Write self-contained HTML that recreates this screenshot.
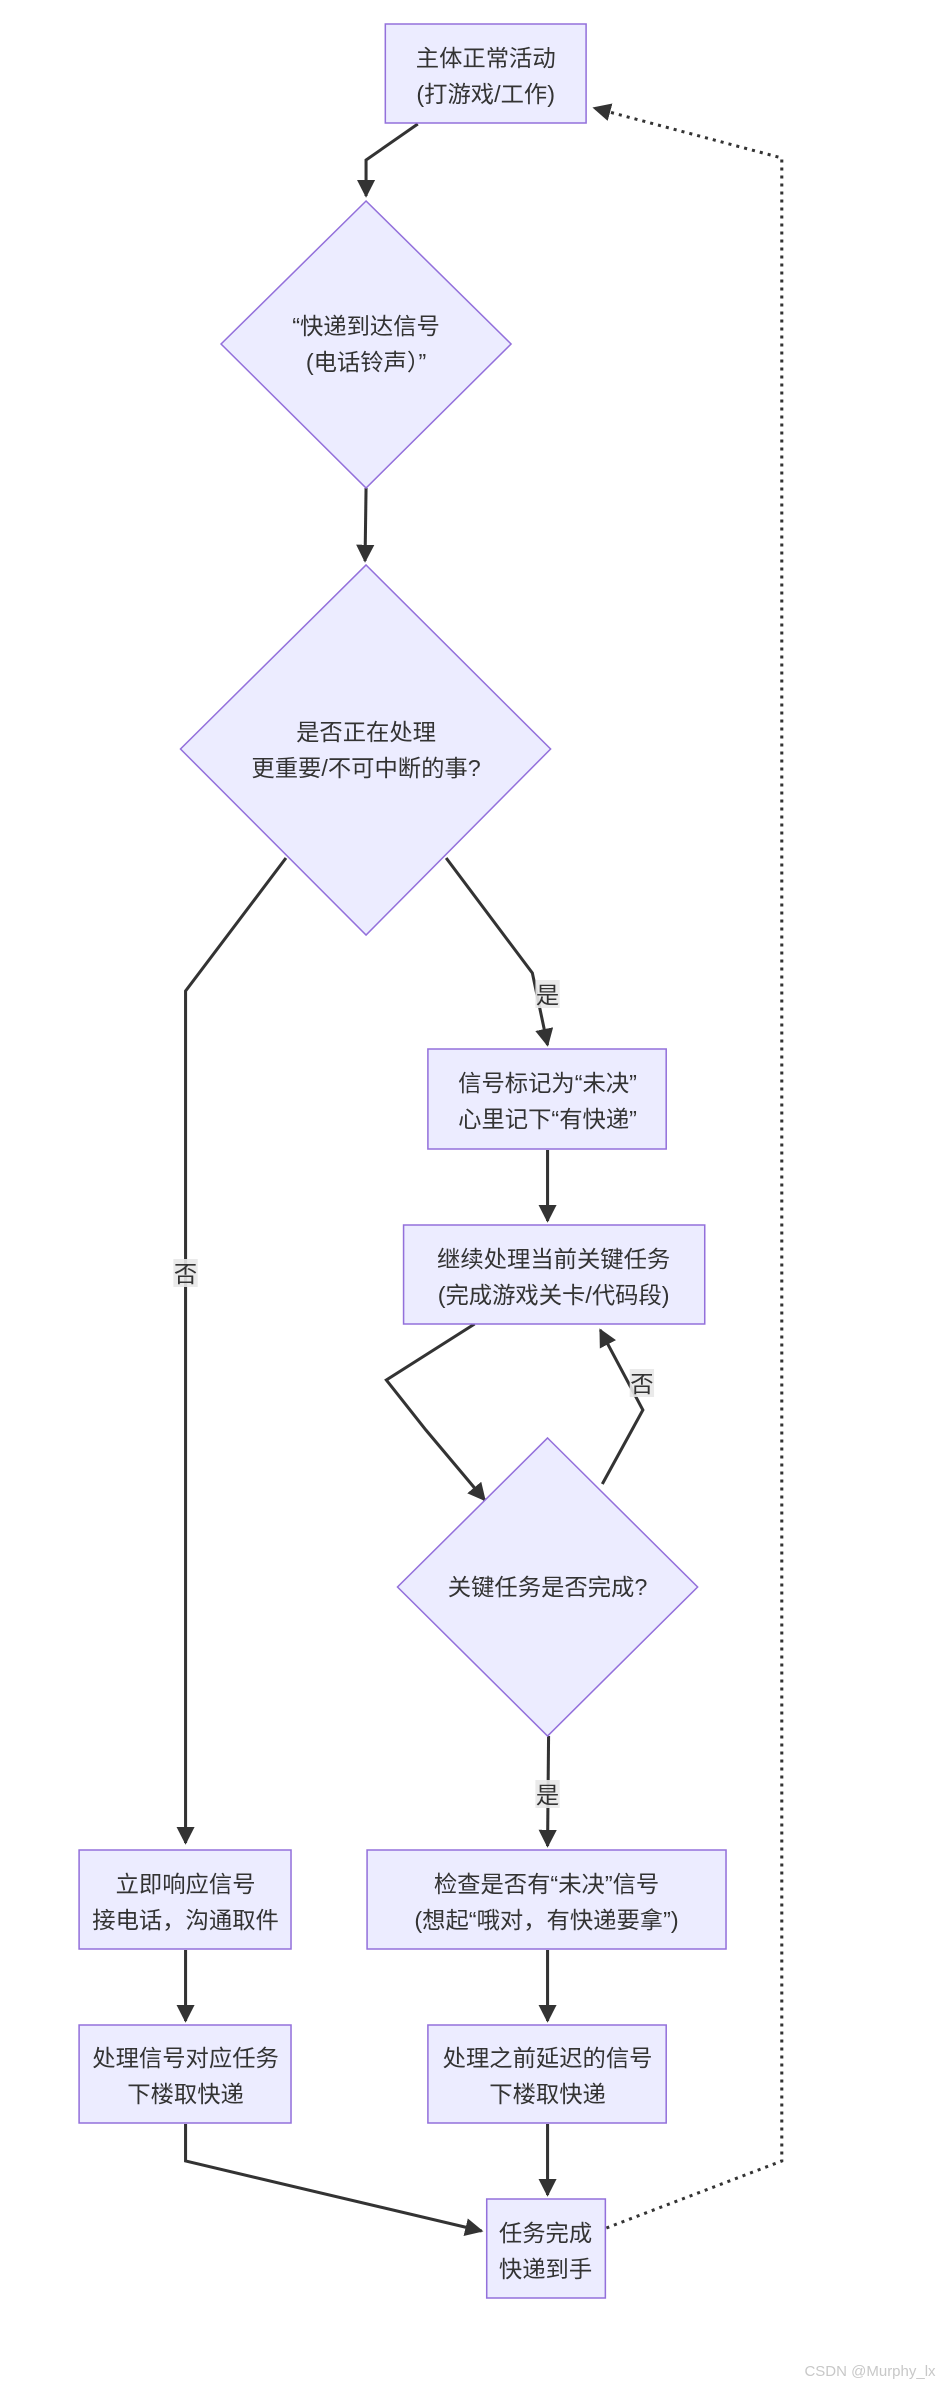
<!DOCTYPE html>
<html><head><meta charset="utf-8"><style>
body{margin:0;background:#fff;}
svg{display:block;}
text{font-family:"Liberation Sans","Noto Sans CJK SC",sans-serif;font-size:23px;fill:#333;text-anchor:middle;}
.n{fill:#ECECFF;stroke:#9370DB;stroke-width:1.5;}
.e{fill:none;stroke:#333;stroke-width:3;}
.d{fill:none;stroke:#333;stroke-width:3;stroke-dasharray:3,5;}
.lb{fill:#e8e8e8;opacity:0.9;}
</style></head><body>
<svg width="938" height="2382" viewBox="0 0 938 2382" xmlns="http://www.w3.org/2000/svg">
<defs><marker id="a" viewBox="0 0 10 10" refX="9" refY="5" markerWidth="6" markerHeight="6" orient="auto"><path d="M0,0 L10,5 L0,10 z" fill="#333"/></marker></defs>
<g transform="scale(1.014,1)">
<!-- edges -->
<path class="e" d="M412,124 L361,160 L361,196" marker-end="url(#a)"/>
<path class="e" d="M361,488 L360,561" marker-end="url(#a)"/>
<path class="e" d="M282,858 L183,991 L183,1843" marker-end="url(#a)"/>
<path class="e" d="M440,858 L525,973 L540,1045" marker-end="url(#a)"/>
<path class="e" d="M540,1150 L540,1221" marker-end="url(#a)"/>
<path class="e" d="M468,1324 L381,1380 L420,1430 L478,1500" marker-end="url(#a)"/>
<path class="e" d="M594,1484 L634,1410 L592,1330" marker-end="url(#a)"/>
<path class="e" d="M541,1736 L540,1846" marker-end="url(#a)"/>
<path class="e" d="M183,1950 L183,2021" marker-end="url(#a)"/>
<path class="e" d="M540,1950 L540,2021" marker-end="url(#a)"/>
<path class="e" d="M540,2124 L540,2195" marker-end="url(#a)"/>
<path class="e" d="M183,2124 L183,2161 L475,2231" marker-end="url(#a)"/>
<path class="d" d="M598,2228 L771,2161 L771,158 L586,108" marker-end="url(#a)"/>

<!-- edge labels -->
<rect class="lb" x="171" y="1259" width="24" height="28"/><text x="183" y="1282">否</text>
<rect class="lb" x="528" y="980" width="24" height="28"/><text x="540" y="1003">是</text>
<rect class="lb" x="621" y="1369" width="24" height="28"/><text x="633" y="1392">否</text>
<rect class="lb" x="528" y="1780" width="24" height="28"/><text x="540" y="1803">是</text>

<!-- nodes -->
<rect class="n" x="380" y="24" width="198" height="99"/>
<text x="479" y="66">主体正常活动</text><text x="479" y="102">(打游戏/工作)</text>

<polygon class="n" points="361,201 504,344 361,488 218,344"/>
<text x="361" y="334">“快递到达信号</text><text x="361" y="370">(电话铃声）”</text>

<polygon class="n" points="361,565 543,749 361,935 178,749"/>
<text x="361" y="740">是否正在处理</text><text x="361" y="776">更重要/不可中断的事?</text>

<rect class="n" x="422" y="1049" width="235" height="100"/>
<text x="540" y="1091">信号标记为“未决”</text><text x="540" y="1127">心里记下“有快递”</text>

<rect class="n" x="398" y="1225" width="297" height="99"/>
<text x="546" y="1267">继续处理当前关键任务</text><text x="546" y="1303">(完成游戏关卡/代码段)</text>

<polygon class="n" points="540,1438 688,1587 540,1736 392,1587"/>
<text x="540" y="1595">关键任务是否完成?</text>

<rect class="n" x="78" y="1850" width="209" height="99"/>
<text x="183" y="1892">立即响应信号</text><text x="183" y="1928">接电话，沟通取件</text>

<rect class="n" x="362" y="1850" width="354" height="99"/>
<text x="539" y="1892">检查是否有“未决”信号</text><text x="539" y="1928">(想起“哦对，有快递要拿”)</text>

<rect class="n" x="78" y="2025" width="209" height="98"/>
<text x="183" y="2066">处理信号对应任务</text><text x="183" y="2102">下楼取快递</text>

<rect class="n" x="422" y="2025" width="235" height="98"/>
<text x="540" y="2066">处理之前延迟的信号</text><text x="540" y="2102">下楼取快递</text>

<rect class="n" x="480" y="2199" width="117" height="99"/>
<text x="538" y="2241">任务完成</text><text x="538" y="2277">快递到手</text>
</g>
<text x="870" y="2376" style="font-size:15px;fill:#c8c8c8;">CSDN @Murphy_lx</text>
</svg>
</body></html>
